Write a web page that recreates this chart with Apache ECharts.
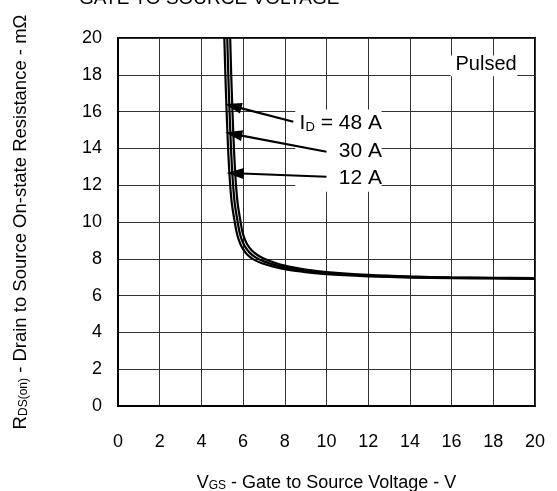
<!DOCTYPE html>
<html>
<head>
<meta charset="utf-8">
<script src="https://cdn.jsdelivr.net/npm/echarts@6/dist/echarts.min.js"></script>
<style>
  html, body { margin: 0; padding: 0; background: #fff; }
  #main { width: 557px; height: 491px; }
</style>
</head>
<body>
<div id="main"></div>
<script>
// axis ticks
const xTicks = [0, 2, 4, 6, 8, 10, 12, 14, 16, 18, 20];
const yTicks = [0, 2, 4, 6, 8, 10, 12, 14, 16, 18, 20];

// RDS(on) vs VGS, [VGS (V), RDS(on) (mOhm)]
const id12 = [
  [5.1, 20], [5.15, 18], [5.21, 16], [5.28, 14], [5.325, 13], [5.38, 12],
  [5.46, 11], [5.6, 10], [5.68, 9.5], [5.8, 9.0], [5.95, 8.62], [6.18, 8.25],
  [6.5, 7.97], [6.9, 7.76], [7.5, 7.56], [8.2, 7.39], [9, 7.27], [10, 7.16],
  [12, 7.05], [14, 6.98], [16, 6.95], [18, 6.93], [20, 6.91]
];
const id30 = [
  [5.24, 20], [5.29, 18], [5.35, 16], [5.42, 14], [5.465, 13], [5.52, 12],
  [5.6, 11], [5.74, 10], [5.82, 9.5], [5.93, 9.05], [6.07, 8.7], [6.3, 8.35],
  [6.6, 8.08], [7.0, 7.86], [7.6, 7.64], [8.3, 7.46], [9, 7.34], [10, 7.22],
  [12, 7.09], [14, 7.01], [16, 6.97], [18, 6.95], [20, 6.93]
];
const id48 = [
  [5.38, 20], [5.43, 18], [5.49, 16], [5.56, 14], [5.605, 13], [5.66, 12],
  [5.74, 11], [5.88, 10], [5.96, 9.5], [6.07, 9.1], [6.2, 8.78], [6.42, 8.45],
  [6.72, 8.18], [7.1, 7.96], [7.7, 7.72], [8.4, 7.53], [9, 7.41], [10, 7.28],
  [12, 7.13], [14, 7.04], [16, 6.99], [18, 6.97], [20, 6.95]
];

// annotations (data coordinates)
const arrowTails = [[8.41, 15.45], [10.0, 13.82], [10.0, 12.46]];
const arrowTips = [[5.52, 16.3], [5.55, 14.78], [5.62, 12.65]];
const labelTexts = ['{n|I}{s|D}{n| = 48 A}', '{n|30 A}', '{n|12 A}'];
const labelAnchors = [[12.66, 15.43], [12.66, 13.91], [12.66, 12.47]];
const labelBox = [[8.5, 16.12], [12.64, 11.65]];
const pulsedAnchor = [19.12, 18.55];
const pulsedBox = [[15.95, 19.05], [19.15, 17.92]];

const FONT = '"Liberation Sans", Arial, sans-serif';

const chart = echarts.init(document.getElementById('main'));

function lineSeries(name, data, withArrow) {
  return {
    name: name,
    type: 'line',
    data: data,
    smooth: 0.3,
    showSymbol: false,
    symbol: 'none',
    z: 3,
    lineStyle: { color: '#000', width: 2.2 },
    markLine: withArrow ? {
      silent: true,
      symbol: ['none', 'triangle'],
      symbolSize: [11, 17],
      label: { show: false },
      lineStyle: { color: '#000', width: 2.2, type: 'solid' },
      data: arrowTails.map((t, i) => [{ coord: t }, { coord: arrowTips[i] }])
    } : undefined
  };
}

const axisCommon = {
  type: 'value',
  min: 0,
  max: 20,
  interval: 2,
  axisTick: { show: false },
  axisLine: { show: true, lineStyle: { color: '#000', width: 2 } },
  splitLine: { show: true, lineStyle: { color: '#333', width: 1 } },
};

const nameRich = (size) => ({
  n: { fontSize: size, fontFamily: FONT, color: '#000', lineHeight: 21, verticalAlign: 'bottom' },
  s: { fontSize: 12, fontFamily: FONT, color: '#000', lineHeight: 14, verticalAlign: 'bottom' }
});

chart.setOption({
  animation: false,
  backgroundColor: '#fff',
  grid: {
    left: 118, top: 38, width: 417, height: 368,
    outerBoundsMode: 'none',
    show: true, borderColor: '#000', borderWidth: 2
  },
  xAxis: Object.assign({}, axisCommon, {
    axisLabel: { color: '#000', fontSize: 18, fontFamily: FONT, margin: 27 },
    name: '{n|V}{s|GS}{n| - Gate to Source Voltage - V}',
    nameLocation: 'middle',
    nameGap: 65,
    nameTextStyle: { rich: nameRich(18) }
  }),
  yAxis: Object.assign({}, axisCommon, {
    axisLabel: { color: '#000', fontSize: 18, fontFamily: FONT, margin: 16 },
    name: '{n|R}{s|DS(on)}{n| - Drain to Source On-state Resistance - mΩ}',
    nameLocation: 'middle',
    nameRotate: 90,
    nameGap: 88,
    nameTextStyle: { rich: nameRich(18.5) }
  }),
  series: [
    lineSeries('12 A', id12, false),
    lineSeries('30 A', id30, false),
    lineSeries('48 A', id48, true)
  ]
});

// white boxes and texts placed after the axes are known
const px = (p) => chart.convertToPixel({ gridIndex: 0 }, p);

function boxRect(box) {
  const a = px(box[0]);
  const b = px(box[1]);
  return {
    type: 'rect',
    z: 1,
    silent: true,
    shape: { x: a[0], y: a[1], width: b[0] - a[0], height: b[1] - a[1] },
    style: { fill: '#fff' }
  };
}

const richLabel = {
  n: { fontSize: 21, fontFamily: FONT, fill: '#000', lineHeight: 24, verticalAlign: 'bottom' },
  s: { fontSize: 13, fontFamily: FONT, fill: '#000', lineHeight: 15, verticalAlign: 'bottom' }
};

const graphics = [boxRect(labelBox), boxRect(pulsedBox)];

labelTexts.forEach((t, i) => {
  const p = px(labelAnchors[i]);
  graphics.push({
    type: 'text',
    z: 10,
    x: p[0],
    y: p[1],
    style: { text: t, rich: richLabel, align: 'right', verticalAlign: 'middle' }
  });
});

const pp = px(pulsedAnchor);
graphics.push({
  type: 'text',
  z: 10,
  x: pp[0],
  y: pp[1],
  style: { text: 'Pulsed', font: '20px ' + FONT, fill: '#000', align: 'right', verticalAlign: 'middle' }
});

// chart title, cut at the top edge
graphics.push({
  type: 'text',
  z: 10,
  x: 79,
  y: 8,
  style: { text: 'GATE TO SOURCE VOLTAGE', font: '19px ' + FONT, fill: '#000', align: 'left', verticalAlign: 'bottom' }
});

chart.setOption({ graphic: graphics });
</script>
</body>
</html>
